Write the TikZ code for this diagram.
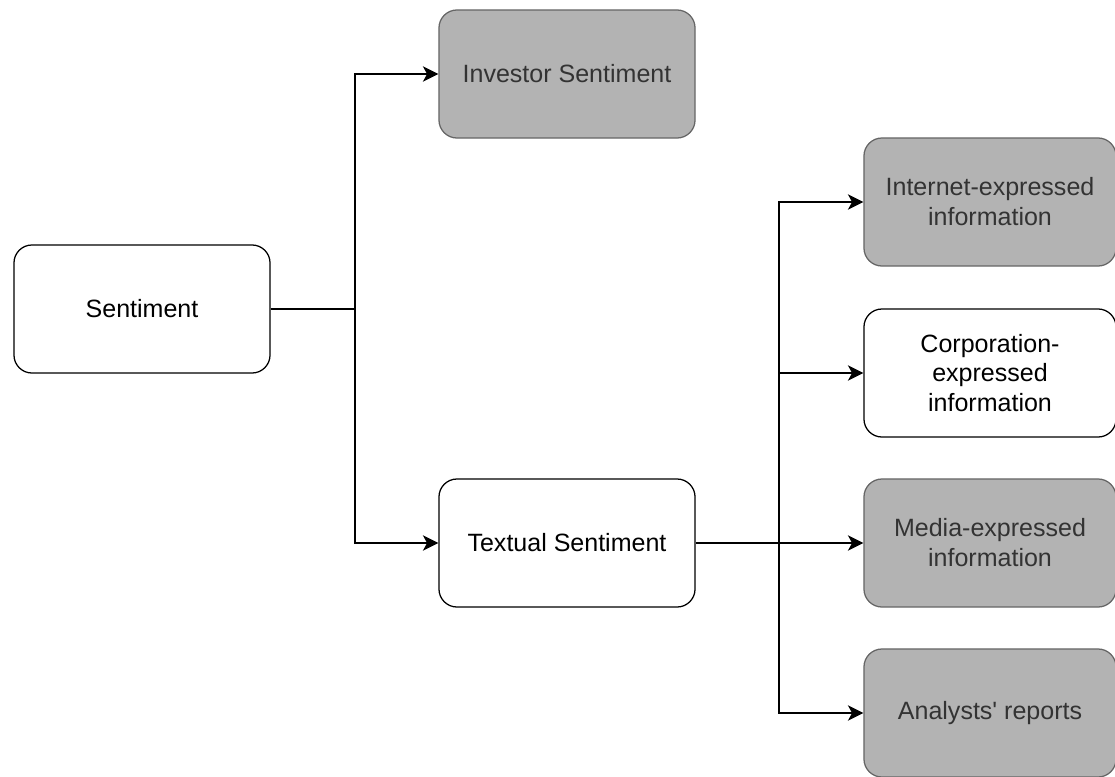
\documentclass[tikz,border=0pt]{standalone}
\usepackage{fontspec}
\setmainfont{Liberation Sans}
\usetikzlibrary{arrows.meta}
\definecolor{boxgray}{HTML}{B3B3B3}
\definecolor{boxedge}{HTML}{666666}
\definecolor{boxtext}{HTML}{333333}

\begin{document}
\begin{tikzpicture}[x=0.025cm, y=-0.025cm,
		plainbox/.style={draw=black, line width=0.9pt, rounded corners=0.45cm, fill=white, minimum width=6.4cm, minimum height=3.2cm, align=center, font=\fontsize{17.8}{21.3}\selectfont},
		greybox/.style={plainbox, fill=boxgray, draw=boxedge, text=boxtext},
		link/.style={line width=0.9pt},
		arrowlink/.style={link, -{Stealth[length=11pt, width=11pt, inset=3pt]}}]
		%%%%% START %%%%%
		
		\useasboundingbox (0, 0) rectangle (1115, 776);
		
		\node[plainbox] (sentiment) at (142, 309) {Sentiment};
		\node[greybox] (investor) at (567, 74) {Investor Sentiment};
		\node[plainbox] (textual) at (567, 543) {Textual Sentiment};
		
		\node[greybox, minimum width=6.3cm] (internet) at (990, 202) {Internet-expressed\\information};
		\node[plainbox, minimum width=6.3cm] (corporation) at (990, 373) {Corporation-\\expressed\\information};
		\node[greybox, minimum width=6.3cm] (media) at (990, 543) {Media-expressed\\information};
		\node[greybox, minimum width=6.3cm] (analysts) at (990, 713) {Analysts\textquotesingle{} reports};
		
		\coordinate (fork) at (355, 309);
		\draw[link] (sentiment.east) -- (fork);
		\draw[arrowlink] (fork) |- (investor.west);
		\draw[arrowlink] (fork) |- (textual.west);
		
		\coordinate (spine) at (779, 543);
		\draw[arrowlink] (textual.east) -- (media.west);
		\draw[arrowlink] (spine) |- (internet.west);
		\draw[arrowlink] (spine) |- (corporation.west);
		\draw[arrowlink] (spine) |- (analysts.west);
		
		%%%%% END %%%%%
	\end{tikzpicture}
\end{document}
